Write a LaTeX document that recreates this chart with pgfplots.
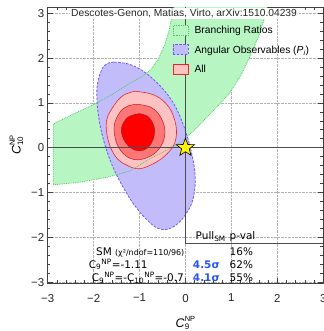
\documentclass[border=0pt]{standalone}
\usepackage{fontspec}
\setmainfont{Liberation Sans}
\newfontfamily\dejavu{DejaVu Sans}
\usepackage{pgfplots}
\usepackage{pgfplotstable}
\pgfplotsset{compat=1.18}
\usetikzlibrary{calc}

\definecolor{grfill}{RGB}{183,246,194}
\definecolor{grline}{RGB}{80,200,95}
\definecolor{blfill}{RGB}{194,188,250}
\definecolor{blline}{RGB}{110,90,240}
\definecolor{rd1}{RGB}{255,194,194}
\definecolor{rd2}{RGB}{255,118,118}
\definecolor{rd3}{RGB}{255,0,0}
\definecolor{rdline}{RGB}{228,40,40}
\definecolor{pullblue}{RGB}{40,85,240}
\definecolor{staryel}{RGB}{255,244,0}

\pgfdeclareplotmark{fstar}{%
  \pgfpathmoveto{\pgfpointpolar{90}{\pgfplotmarksize}}%
  \pgfpathlineto{\pgfpointpolar{126}{0.42\pgfplotmarksize}}%
  \pgfpathlineto{\pgfpointpolar{162}{\pgfplotmarksize}}%
  \pgfpathlineto{\pgfpointpolar{198}{0.42\pgfplotmarksize}}%
  \pgfpathlineto{\pgfpointpolar{234}{\pgfplotmarksize}}%
  \pgfpathlineto{\pgfpointpolar{270}{0.42\pgfplotmarksize}}%
  \pgfpathlineto{\pgfpointpolar{306}{\pgfplotmarksize}}%
  \pgfpathlineto{\pgfpointpolar{342}{0.42\pgfplotmarksize}}%
  \pgfpathlineto{\pgfpointpolar{18}{\pgfplotmarksize}}%
  \pgfpathlineto{\pgfpointpolar{54}{0.42\pgfplotmarksize}}%
  \pgfpathclose
  \pgfusepathqfillstroke}

\pgfplotstableread{
x y
-0.25 3.14
-0.30 2.90
-0.36 2.60
-0.45 2.30
-0.58 2.00
-0.75 1.75
-0.95 1.58
-1.21 1.44
-1.50 1.25
-1.90 1.01
-2.40 0.77
-2.88 0.53
-2.88 -0.83
-2.30 -0.77
-1.70 -0.66
-1.21 -0.52
-0.78 -0.25
-0.40 -0.05
-0.06 0.15
0.20 0.40
0.46 0.67
0.75 0.98
0.96 1.22
1.20 1.60
1.40 2.02
1.60 2.50
1.73 2.92
1.78 3.14
}\greentab

\pgfplotstableread{
x y
-1.55 1.91
-1.25 1.87
-0.95 1.73
-0.65 1.48
-0.40 1.20
-0.22 0.92
-0.08 0.60
0.04 0.25
0.13 -0.10
0.20 -0.50
0.21 -0.85
0.15 -1.20
0.03 -1.45
-0.15 -1.68
-0.38 -1.82
-0.60 -1.80
-0.82 -1.63
-1.07 -1.34
-1.32 -0.95
-1.55 -0.50
-1.72 -0.05
-1.85 0.45
-1.92 0.95
-1.92 1.40
-1.82 1.75
-1.70 1.88
-1.55 1.91
}\bluetab

\pgfplotstableread{
x y
-1.10 1.26
-0.75 1.20
-0.49 1.05
-0.30 0.80
-0.20 0.45
-0.22 0.15
-0.34 -0.07
-0.60 -0.30
-0.99 -0.47
-1.30 -0.38
-1.52 -0.20
-1.68 0.15
-1.72 0.60
-1.55 0.95
-1.35 1.17
-1.10 1.26
}\redA

\pgfplotstableread{
x y
-1.05 0.97
-0.75 0.90
-0.55 0.70
-0.45 0.40
-0.50 0.10
-0.70 -0.15
-1.03 -0.27
-1.30 -0.18
-1.50 0.10
-1.55 0.50
-1.42 0.80
-1.25 0.93
-1.05 0.97
}\redB

\pgfplotstableread{
x y
-1.00 0.76
-0.80 0.68
-0.68 0.45
-0.70 0.20
-0.82 0.00
-1.00 -0.07
-1.20 0.00
-1.35 0.20
-1.39 0.45
-1.25 0.68
-1.00 0.76
}\redC

\begin{document}
\begin{tikzpicture}
\begin{axis}[
  scale only axis,
  width=275.5bp, height=276bp,
  xmin=-3, xmax=3, ymin=-3.02, ymax=3.14,
  clip=false,
  xtick={-3,-2,-1,0,1,2,3},
  ytick={-3,-2,-1,0,1,2,3},
  xticklabels={−3,−2,−1,0,1,2,3},
  yticklabels={−3,−2,−1,0,1,2,3},
  minor x tick num=4, minor y tick num=4,
  tick align=inside,
  major tick length=5bp, minor tick length=2.8bp,
  tick style={black!75, line width=0.6bp},
  axis line style={black!75, line width=0.8bp},
  grid=major,
  grid style={densely dotted, black!30, line width=0.5bp},
  ticklabel style={font=\fontsize{11.5}{13}\selectfont, text=black!85},
  xticklabel style={yshift=-7.5bp},
  xlabel={\fontsize{12.5}{14}\selectfont\textit{C}\rlap{\raisebox{-0.35ex}{\fontsize{8}{9}\selectfont 9}}\raisebox{0.9ex}{\fontsize{7.5}{9}\selectfont NP}},
  xlabel style={at={(axis description cs:0.5,0)}, anchor=base, yshift=-44bp, inner sep=0pt},
  ylabel={\fontsize{12.5}{14}\selectfont\textit{C}\rlap{\raisebox{-0.35ex}{\fontsize{8}{9}\selectfont 10}}\raisebox{0.9ex}{\fontsize{7.5}{9}\selectfont NP}},
  ylabel style={at={(axis description cs:-0.098,0.5)}, anchor=base, inner sep=0pt},
  legend style={at={(axis cs:-0.28,2.74)}, anchor=north west, draw=none, fill=none,
    inner sep=0pt, font=\fontsize{10.3}{12}\selectfont, row sep=8bp,
    nodes={inner sep=1bp}},
  /tikz/every odd column/.style={column sep=5bp},
  legend cell align=left,
  legend image code/.code={\draw[#1] (0bp,-4.5bp) rectangle (15bp,5.5bp);},
]
\addlegendimage{fill=grfill, draw=grline, densely dotted, line width=0.8bp}
\addlegendentry{Branching Ratios}
\addlegendimage{fill=blfill, draw=blline, dash pattern=on 2.5bp off 1.5bp, line width=0.8bp}
\addlegendentry{Angular Observables (\textit{P\textsubscript{i}})}
\addlegendimage{fill=rd1, draw=rdline, line width=0.7bp}
\addlegendentry{All}

% green band fill
\addplot[fill=grfill, draw=none, forget plot] table {\greentab} -- cycle;
% blue region
\addplot[smooth, tension=0.6, fill=blfill, draw=blline, dash pattern=on 2.5bp off 1.5bp, line width=0.8bp, forget plot] table {\bluetab};
% red regions
\addplot[smooth, tension=0.6, fill=rd1, draw=rdline, line width=0.6bp, forget plot] table {\redA};
\addplot[smooth, tension=0.6, fill=rd2, draw=rdline!80!black, line width=0.5bp, forget plot] table {\redB};
\addplot[smooth, tension=0.6, fill=rd3, draw=rdline!70!black, line width=0.5bp, forget plot] table {\redC};
% green band border
\addplot[draw=grline, densely dotted, line width=0.8bp, forget plot] table {\greentab};

% axis lines
\addplot[black!70, line width=1bp, forget plot] coordinates {(-3,0) (3,0)};
\addplot[black!70, line width=1bp, forget plot] coordinates {(0,-2.14) (0,3.14)};
% table rule
\addplot[black!70, line width=0.8bp, forget plot] coordinates {(0,-2.14) (3,-2.14)};

% SM star
\addplot[only marks, mark=fstar, mark size=9.5bp, mark options={fill=staryel, draw=black, line width=0.6bp}, forget plot] coordinates {(0,0)};

% title
\node[anchor=north, fill=white, inner sep=1bp, font=\fontsize{10.3}{12}\selectfont, text=black!85] at (axis cs:-0.03,3.12) {Descotes-Genon, Matias, Virto, arXiv:1510.04239};

% table
\node[anchor=base west, inner sep=0pt, font=\dejavu\fontsize{10.5}{12}\selectfont] at (axis cs:0.22,-2.05) {Pull\textsubscript{SM}};
\node[anchor=base west, inner sep=0pt, font=\dejavu\fontsize{10.5}{12}\selectfont] at (axis cs:0.96,-2.05) {p-val};
\node[anchor=base east, inner sep=0pt, font=\dejavu\fontsize{10.5}{12}\selectfont] at (axis cs:-0.02,-2.40) {SM {\fontsize{8}{9}\selectfont(χ²/ndof=110/96)}};
\node[anchor=base west, inner sep=0pt, font=\dejavu\fontsize{10.5}{12}\selectfont] at (axis cs:0.96,-2.40) {16\%};
\node[anchor=base east, inner sep=0pt, font=\dejavu\fontsize{10.5}{12}\selectfont] at (axis cs:-0.82,-2.69) {C\textsubscript{9}\textsuperscript{NP}=-1.11};
\node[anchor=base west, inner sep=0pt, text=pullblue, font=\dejavu\bfseries\fontsize{10.5}{12}\selectfont] at (axis cs:0.16,-2.69) {4.5σ};
\node[anchor=base west, inner sep=0pt, font=\dejavu\fontsize{10.5}{12}\selectfont] at (axis cs:0.96,-2.69) {62\%};
\node[anchor=base east, inner sep=0pt, font=\dejavu\fontsize{10.5}{12}\selectfont] at (axis cs:-0.03,-2.99) {C\textsubscript{9}\textsuperscript{NP}=-C\textsubscript{10}\textsuperscript{NP}=-0.7};
\node[anchor=base west, inner sep=0pt, text=pullblue, font=\dejavu\bfseries\fontsize{10.5}{12}\selectfont] at (axis cs:0.16,-2.99) {4.1σ};
\node[anchor=base west, inner sep=0pt, font=\dejavu\fontsize{10.5}{12}\selectfont] at (axis cs:0.96,-2.99) {55\%};
\end{axis}
\pgfresetboundingbox
\path[use as bounding box] ($(current axis.south west)+(-47.7bp,-48bp)$) rectangle ($(current axis.north east)+(0bp,7bp)$);
\end{tikzpicture}
\end{document}
